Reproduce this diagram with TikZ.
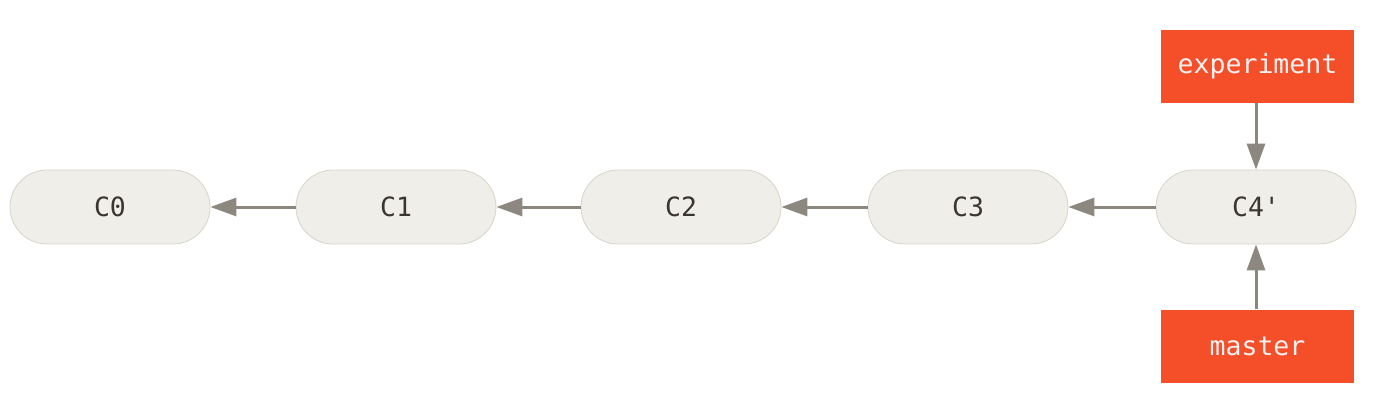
\documentclass[tikz,border=0pt]{standalone}
\usepackage{fontspec}
\setmonofont{DejaVu Sans Mono}
\usetikzlibrary{arrows.meta}
\definecolor{commitfill}{HTML}{EFEEE8}
\definecolor{commitdraw}{HTML}{D6D4CC}
\definecolor{branchfill}{HTML}{F54F29}
\definecolor{branchtext}{HTML}{F2F2F2}
\definecolor{arrowcol}{HTML}{8C877F}
\definecolor{textcol}{HTML}{3A3530}
\begin{document}
\begin{tikzpicture}[x=1pt,y=-1pt,
  commit/.style={draw=commitdraw,line width=0.8pt,fill=commitfill,rounded corners=37pt,
    minimum width=200pt,minimum height=74pt,inner sep=0pt,
    font=\ttfamily\fontsize{26.5}{30}\selectfont,text=textcol},
  branch/.style={fill=branchfill,minimum width=193pt,minimum height=73pt,inner sep=0pt,
    font=\ttfamily\fontsize{26.5}{30}\selectfont,text=branchtext},
  link/.style={draw=arrowcol,line width=3pt,-{Triangle[length=26pt,width=18pt]}}]
\useasboundingbox (0,0) rectangle (1376,405);
\node[commit] (c0) at (110,207) {C0};
\node[commit] (c1) at (396,207) {C1};
\node[commit] (c2) at (681,207) {C2};
\node[commit] (c3) at (968,207) {C3};
\node[commit] (c4) at (1256,207) {C4'};
\node[branch] (exp) at (1257.5,66.5) {experiment};
\node[branch] (mas) at (1257.5,346) {master};
\draw[link] (c1) -- (c0);
\draw[link] (c2) -- (c1);
\draw[link] (c3) -- (c2);
\draw[link] (c4) -- (c3);
\draw[link] (exp.south -| c4.north) -- (c4.north);
\draw[link] (mas.north -| c4.south) -- (c4.south);
\end{tikzpicture}
\end{document}
